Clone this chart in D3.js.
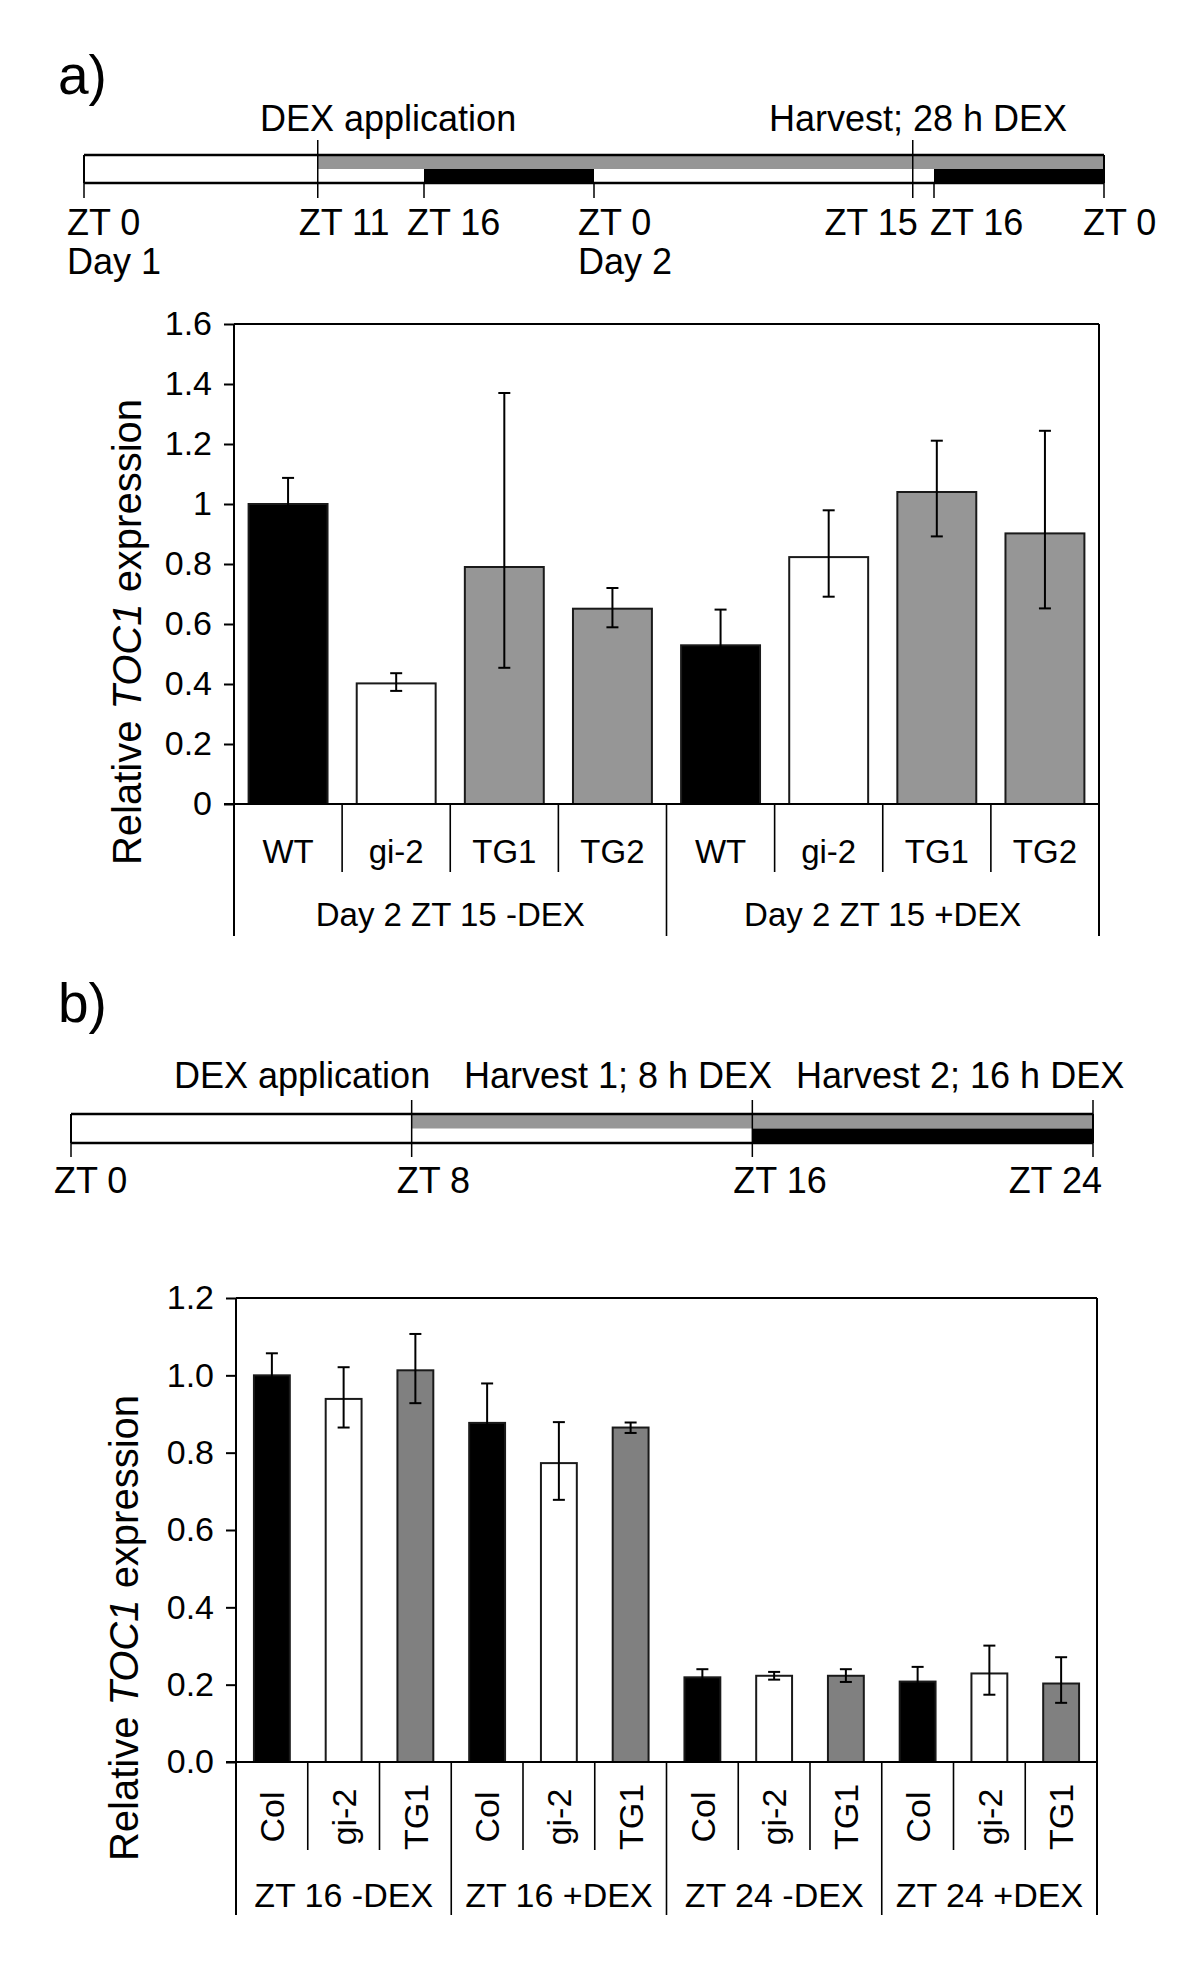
<!DOCTYPE html>
<html><head><meta charset="utf-8">
<script src="https://cdn.jsdelivr.net/npm/d3@7"></script>
<style>
body{margin:0;background:#fff}
svg{display:block}
text{font-family:"Liberation Sans",Arial,Helvetica,sans-serif;fill:#000}
</style>
</head><body>
<svg id="c" width="1200" height="1965"></svg>
<script>
// ---------------- DATA ----------------
// Panel a) timeline (hours from ZT0 Day 1)
const tlAHours  = [0, 11, 16, 24, 39, 40, 48];
const tlALabels = ["ZT 0", "ZT 11", "ZT 16", "ZT 0", "ZT 15", "ZT 16", "ZT 0"];
const tlADays   = ["Day 1", "", "", "Day 2", "", "", ""];
const tlADex    = [11, 48];
const tlADark   = [[16, 24], [40, 48]];
const tlANotes  = ["DEX application", "Harvest; 28 h DEX"];

// Panel a) bar chart
const aGroups   = ["Day 2 ZT 15 -DEX", "Day 2 ZT 15 +DEX"];
const aCats     = ["WT", "gi-2", "TG1", "TG2"];
const aValues   = [1.000, 0.402, 0.790, 0.651, 0.529, 0.823, 1.040, 0.902];
const aErrLow   = [0.913, 0.377, 0.454, 0.589, 0.410, 0.691, 0.892, 0.652];
const aErrHigh  = [1.087, 0.436, 1.370, 0.720, 0.648, 0.979, 1.211, 1.244];
const aYTicks   = [0, 0.2, 0.4, 0.6, 0.8, 1.0, 1.2, 1.4, 1.6];
const aYLabels  = ["0", "0.2", "0.4", "0.6", "0.8", "1", "1.2", "1.4", "1.6"];

// Panel b) timeline
const tlBHours  = [0, 8, 16, 24];
const tlBLabels = ["ZT 0", "ZT 8", "ZT 16", "ZT 24"];
const tlBDex    = [8, 24];
const tlBDark   = [[16, 24]];
const tlBNotes  = ["DEX application", "Harvest 1; 8 h DEX", "Harvest 2; 16 h DEX"];

// Panel b) bar chart
const bGroups   = ["ZT 16 -DEX", "ZT 16 +DEX", "ZT 24 -DEX", "ZT 24 +DEX"];
const bCats     = ["Col", "gi-2", "TG1"];
const bValues   = [1.000, 0.939, 1.013, 0.877, 0.773, 0.865, 0.219, 0.223, 0.223, 0.208, 0.229, 0.203];
const bErrLow   = [0.943, 0.865, 0.928, 0.775, 0.678, 0.851, 0.198, 0.213, 0.207, 0.170, 0.174, 0.153];
const bErrHigh  = [1.057, 1.021, 1.107, 0.979, 0.879, 0.878, 0.240, 0.233, 0.240, 0.246, 0.301, 0.271];
const bYTicks   = [0, 0.2, 0.4, 0.6, 0.8, 1.0, 1.2];
const bYLabels  = ["0.0", "0.2", "0.4", "0.6", "0.8", "1.0", "1.2"];

const yTitle = ["Relative ", "TOC1", " expression"];

// ---------------- DRAWING ----------------
const svg = d3.select("#c");
const FONT = '"Liberation Sans",Arial,Helvetica,sans-serif';

function panelLabel(t, x, y) {
  svg.append("text").attr("x", x).attr("y", y).attr("font-size", 55).text(t);
}

function timeline(cfg) {
  const g = svg.append("g");
  const hMax = d3.max(cfg.hours);
  const x = d3.scaleLinear().domain([0, hMax]).range(cfg.range);
  const y0 = cfg.y0, y1 = cfg.y1, ym = (y0 + y1) / 2;
  g.append("rect").attr("x", x(0)).attr("y", y0).attr("width", x(hMax) - x(0))
    .attr("height", y1 - y0).attr("fill", "#fff");
  g.append("rect").attr("x", x(cfg.dex[0])).attr("y", y0).attr("width", x(cfg.dex[1]) - x(cfg.dex[0]))
    .attr("height", ym - y0).attr("fill", "#969696");
  g.selectAll(".dk").data(cfg.dark).enter().append("rect")
    .attr("x", d => x(d[0])).attr("y", ym).attr("width", d => x(d[1]) - x(d[0]))
    .attr("height", y1 - ym).attr("fill", "#000");
  const ln = (x1, x2, ya, yb, w) => g.append("line").attr("x1", x1).attr("x2", x2)
    .attr("y1", ya).attr("y2", yb).attr("stroke", "#000").attr("stroke-width", w);
  ln(x(0), x(hMax), y0, y0, 2.5);
  ln(x(0), x(hMax), y1, y1, 2.5);
  ln(x(0), x(0), y0, y1, 2);
  ln(x(hMax), x(hMax), y0, y1, 2);
  cfg.hours.forEach((h, i) => {
    const tall = cfg.tall.includes(h);
    ln(x(h), x(h), tall ? cfg.tallTop : (i === 0 || i === cfg.hours.length - 1 ? y0 : y1), cfg.tickBottom, 1.5);
    g.append("text").attr("x", x(h) + cfg.labelDx[i]).attr("y", cfg.labelY)
      .attr("text-anchor", cfg.labelAnchor[i]).attr("font-size", 36).text(cfg.labels[i]);
    if (cfg.days && cfg.days[i]) {
      g.append("text").attr("x", x(h) + cfg.labelDx[i]).attr("y", cfg.dayY)
        .attr("font-size", 36).text(cfg.days[i]);
    }
  });
  cfg.notes.forEach((t, i) => {
    g.append("text").attr("x", cfg.noteX[i]).attr("y", cfg.noteY).attr("font-size", 36).text(t);
  });
}

function barChart(cfg) {
  const g = svg.append("g");
  const n = cfg.values.length;
  const nc = cfg.cats.length;
  const idx = d3.range(n);
  const x = d3.scaleBand().domain(idx).range([cfg.left, cfg.right])
    .paddingInner(cfg.pad).paddingOuter(cfg.pad / 2);
  const y = d3.scaleLinear().domain([0, d3.max(cfg.yTicks)]).range([cfg.bottom, cfg.top]);
  const step = x.step();

  const yAxis = d3.axisLeft(y).tickValues(cfg.yTicks).tickSize(10).tickPadding(12)
    .tickFormat((d, i) => cfg.yLabels[i]);
  const ya = g.append("g").attr("transform", `translate(${cfg.left},0)`).call(yAxis);
  ya.select(".domain").remove();
  ya.selectAll(".tick line").attr("stroke", "#000").attr("stroke-width", 2);
  ya.selectAll(".tick text").attr("font-size", cfg.tickFont).attr("font-family", FONT).attr("fill", "#000");

  g.selectAll(".bar").data(idx).enter().append("rect")
    .attr("x", i => x(i)).attr("width", x.bandwidth())
    .attr("y", i => y(cfg.values[i])).attr("height", i => y(0) - y(cfg.values[i]))
    .attr("fill", i => cfg.colors[i % nc]).attr("stroke", "#1a1a1a").attr("stroke-width", 2);

  const cap = 6;
  idx.forEach(i => {
    const cx = x(i) + x.bandwidth() / 2;
    const eg = g.append("g").attr("stroke", "#000").attr("stroke-width", 2);
    eg.append("line").attr("x1", cx).attr("x2", cx).attr("y1", y(cfg.errLow[i])).attr("y2", y(cfg.errHigh[i]));
    eg.append("line").attr("x1", cx - cap).attr("x2", cx + cap).attr("y1", y(cfg.errLow[i])).attr("y2", y(cfg.errLow[i]));
    eg.append("line").attr("x1", cx - cap).attr("x2", cx + cap).attr("y1", y(cfg.errHigh[i])).attr("y2", y(cfg.errHigh[i]));
  });

  const L = g.append("g").attr("stroke", "#000").attr("stroke-width", 2);
  L.append("line").attr("x1", cfg.left).attr("x2", cfg.left).attr("y1", cfg.top).attr("y2", cfg.groupBottom);
  L.append("line").attr("x1", cfg.left).attr("x2", cfg.right).attr("y1", cfg.top).attr("y2", cfg.top);
  L.append("line").attr("x1", cfg.right).attr("x2", cfg.right).attr("y1", cfg.top).attr("y2", cfg.groupBottom);
  L.append("line").attr("x1", cfg.left - 10).attr("x2", cfg.right).attr("y1", y(0)).attr("y2", y(0));

  for (let k = 1; k < n; k++) {
    const sx = cfg.left + k * step;
    const isGroup = k % nc === 0;
    L.append("line").attr("x1", sx).attr("x2", sx).attr("y1", y(0))
      .attr("y2", isGroup ? cfg.groupBottom : cfg.catBottom).attr("stroke-width", 1.6);
  }

  idx.forEach(i => {
    const cx = x(i) + x.bandwidth() / 2;
    if (cfg.rotate) {
      g.append("text").attr("transform", `translate(${cx},${cfg.catY}) rotate(-90)`)
        .attr("text-anchor", "middle").attr("dy", "0.36em").attr("font-size", cfg.catFont)
        .text(cfg.cats[i % nc]);
    } else {
      g.append("text").attr("x", cx).attr("y", cfg.catY).attr("text-anchor", "middle")
        .attr("font-size", cfg.catFont).text(cfg.cats[i % nc]);
    }
  });
  cfg.groups.forEach((t, gi) => {
    const gx = cfg.left + (gi + 0.5) * nc * step;
    g.append("text").attr("x", gx).attr("y", cfg.groupY).attr("text-anchor", "middle")
      .attr("font-size", cfg.groupFont).text(t);
  });

  const tt = g.append("text").attr("transform", `translate(${cfg.titleX},${cfg.titleY}) rotate(-90)`)
    .attr("text-anchor", "middle").attr("font-size", 40);
  tt.append("tspan").text(yTitle[0]);
  tt.append("tspan").attr("font-style", "italic").text(yTitle[1]);
  tt.append("tspan").text(yTitle[2]);
}

// ---- Panel a ----
panelLabel("a)", 58, 94);
timeline({
  hours: tlAHours, labels: tlALabels, days: tlADays, dex: tlADex, dark: tlADark,
  range: [84, 1104], y0: 155, y1: 183, tall: [11, 39], tallTop: 140, tickBottom: 198,
  labelY: 235, dayY: 274,
  labelDx: [-17, -19, -17, -16, 5, -4, -21],
  labelAnchor: ["start", "start", "start", "start", "end", "start", "start"],
  notes: tlANotes, noteX: [260, 769], noteY: 131
});
barChart({
  values: aValues, errLow: aErrLow, errHigh: aErrHigh, cats: aCats, groups: aGroups,
  colors: ["#000000", "#ffffff", "#969696", "#969696"],
  yTicks: aYTicks, yLabels: aYLabels,
  left: 234, right: 1099, top: 324, bottom: 804, pad: 0.27,
  catBottom: 872, groupBottom: 936, catY: 863, groupY: 926,
  tickFont: 34, catFont: 33, groupFont: 33, rotate: false,
  titleX: 141, titleY: 632
});

// ---- Panel b ----
panelLabel("b)", 58, 1022);
timeline({
  hours: tlBHours, labels: tlBLabels, days: null, dex: tlBDex, dark: tlBDark,
  range: [71, 1093], y0: 1114, y1: 1143, tall: [8, 16, 24], tallTop: 1100, tickBottom: 1157,
  labelY: 1193,
  labelDx: [-17, -15, -19, 9],
  labelAnchor: ["start", "start", "start", "end"],
  notes: tlBNotes, noteX: [174, 464, 796], noteY: 1088
});
barChart({
  values: bValues, errLow: bErrLow, errHigh: bErrHigh, cats: bCats, groups: bGroups,
  colors: ["#000000", "#ffffff", "#808080"],
  yTicks: bYTicks, yLabels: bYLabels,
  left: 236, right: 1097, top: 1298, bottom: 1762, pad: 0.5,
  catBottom: 1850, groupBottom: 1915, catY: 1817, groupY: 1907,
  tickFont: 34, catFont: 34, groupFont: 34, rotate: true,
  titleX: 138, titleY: 1628
});
</script>
</body></html>
